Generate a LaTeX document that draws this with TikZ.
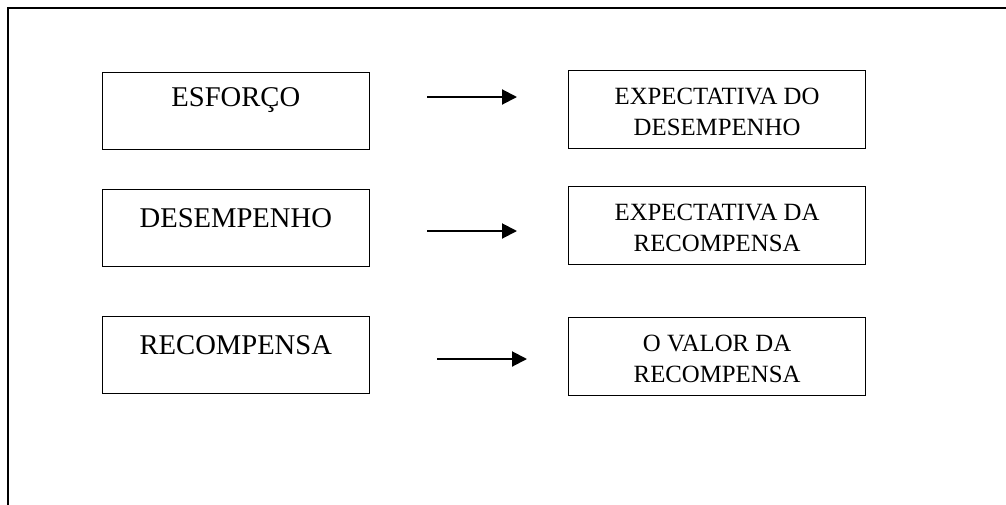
\documentclass[tikz,border=0pt]{standalone}
\usepackage{fontspec}
\setmainfont{Liberation Serif}
\usetikzlibrary{arrows.meta}
\newcommand{\boxlines}[2]{\parbox[t]{140pt}{\centering #1\\#2}}
\tikzset{
  leftbox/.style={draw,line width=0.6pt,inner sep=0pt,anchor=north west,
    minimum width=133.5pt,text height=19pt,text depth=19.5pt,
    font=\fontsize{14.3}{16}\selectfont},
  rightbox/.style={draw,line width=0.6pt,inner sep=0pt,anchor=north west,
    minimum width=148.5pt,text height=17pt,text depth=22pt,
    font=\fontsize{12.4}{15.5}\selectfont},
  arr/.style={line width=1pt,-{Triangle[length=7.5pt,width=7.5pt]}}
}

\begin{document}
\begin{tikzpicture}[x=0.5pt,y=-0.5pt]
  \clip (0,0) rectangle (1006,504);
  % outer frame, runs off the page to the right and below
  \draw[line width=1pt] (8,520) -- (8,7.5) -- (1020,7.5);

  \node[leftbox,text height=17pt,text depth=21.5pt] (esforco) at (101.7,72) {ESFORÇO};
  \node[leftbox] (desemp) at (101.7,189) {DESEMPENHO};
  \node[leftbox] (recomp) at (101.7,316) {RECOMPENSA};

  \node[rightbox] (expdes) at (568,70) {\boxlines{EXPECTATIVA DO}{DESEMPENHO}};
  \node[rightbox] (exprec) at (568,186) {\boxlines{EXPECTATIVA DA}{RECOMPENSA}};
  \node[rightbox] (valrec) at (568,317) {\boxlines{O VALOR DA}{RECOMPENSA}};

  \coordinate (a1s) at (427,97);  \coordinate (a1e) at (517,97);
  \coordinate (a2s) at (427,231); \coordinate (a2e) at (517,231);
  \coordinate (a3s) at (437,359); \coordinate (a3e) at (527,359);
  \draw[arr] (a1s) -- (a1e);
  \draw[arr] (a2s) -- (a2e);
  \draw[arr] (a3s) -- (a3e);
\end{tikzpicture}
\end{document}
